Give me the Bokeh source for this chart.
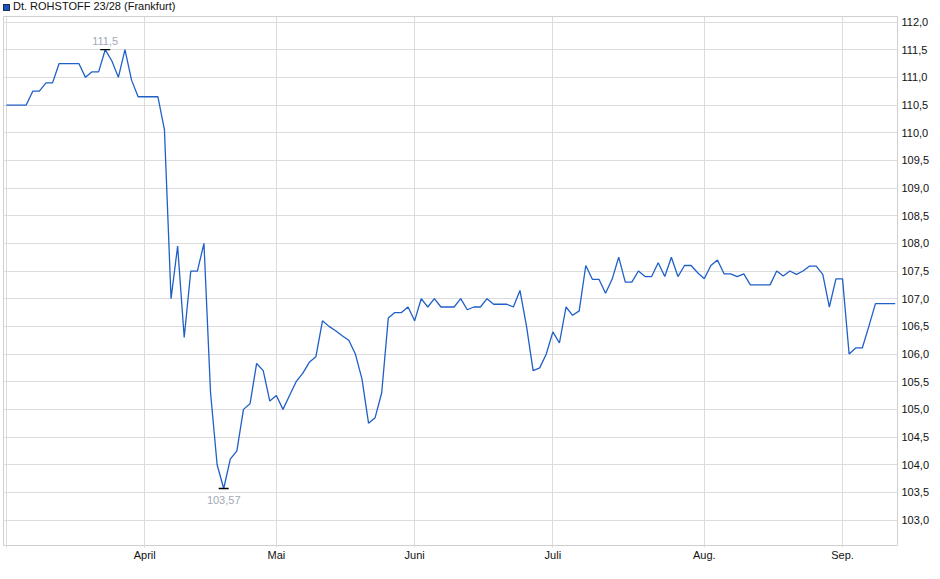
import numpy as np
import pandas as pd
from bokeh.plotting import figure
from bokeh.layouts import column
from bokeh.models import FixedTicker, Range1d, CustomJSTickFormatter, Div
from bokeh.core.properties import value
from bokeh.embed import file_html
from bokeh.resources import INLINE

# ---------------- data ----------------
series_name = "Dt. ROHSTOFF 23/28 (Frankfurt)"
start_date = "2025-03-03"
end_date = "2025-09-11"
exchange_holidays = ["2025-04-18", "2025-04-21", "2025-05-01"]
month_names = {3: "", 4: "April", 5: "Mai", 6: "Juni", 7: "Juli", 8: "Aug.", 9: "Sep."}

mar_vals = [110.5, 110.5, 110.5, 110.5, 110.75, 110.75, 110.9, 110.9, 111.25, 111.25,
            111.25, 111.25, 111.0, 111.1, 111.1, 111.5, 111.3, 111.0, 111.5, 110.95,
            110.65]
apr_vals = [110.65, 110.65, 110.65, 110.05, 107.0, 107.95, 106.3, 107.5, 107.5, 108.0,
            105.3, 104.0, 103.57, 104.1, 104.25, 105.0, 105.1, 105.83, 105.7, 105.15]
may_vals = [105.25, 105.0, 105.25, 105.5, 105.65, 105.85, 105.95, 106.6, 106.5, 106.42,
            106.33, 106.25, 106.0, 105.55, 104.75, 104.85, 105.3, 106.65, 106.75, 106.75,
            106.85]
jun_vals = [106.6, 107.0, 106.85, 107.0, 106.85, 106.85, 106.85, 107.0, 106.8, 106.85,
            106.85, 107.0, 106.9, 106.9, 106.9, 106.85, 107.15, 106.5, 105.7, 105.75,
            106.0]
jul_vals = [106.4, 106.2, 106.85, 106.7, 106.78, 107.6, 107.35, 107.35, 107.1, 107.35,
            107.75, 107.3, 107.3, 107.5, 107.4, 107.4, 107.65, 107.4, 107.75, 107.4,
            107.6, 107.6, 107.47]
aug_vals = [107.36, 107.6, 107.7, 107.45, 107.45, 107.4, 107.45, 107.25, 107.25, 107.25,
            107.25, 107.5, 107.41, 107.5, 107.44, 107.5, 107.59, 107.59, 107.44, 106.85,
            107.36]
sep_vals = [107.36, 106.0, 106.11, 106.11, 106.5, 106.91, 106.91, 106.91, 106.91]

y_tick_values = [103.0, 103.5, 104.0, 104.5, 105.0, 105.5, 106.0, 106.5, 107.0, 107.5,
                 108.0, 108.5, 109.0, 109.5, 110.0, 110.5, 111.0, 111.5, 112.0]
y_min, y_max = 102.54, 112.10

# ---------------- derived ----------------
dates = pd.bdate_range(start_date, end_date)
dates = dates[~dates.isin(pd.to_datetime(exchange_holidays))]
prices = mar_vals + apr_vals + may_vals + jun_vals + jul_vals + aug_vals + sep_vals
n = min(len(dates), len(prices))
dates = dates[:n]
prices = np.array(prices[:n])
idx = np.arange(n)

month_starts = []
month_labels = []
prev = None
for i, d in enumerate(dates):
    if d.month != prev:
        month_starts.append(int(i))
        month_labels.append(month_names.get(d.month, ""))
        prev = d.month

FONT = "Liberation Sans"

W = 932
HEADER_H = 15
H = 571 - HEADER_H
left_b, top_b, bot_b, right_b = 3, 1, 26, 34

header = Div(
    text=('<span style="display:inline-block;width:7px;height:7px;background:#1a56b8;'
          'border:1px solid #1c2f5a;margin-right:3px;vertical-align:-1px"></span>'
          + series_name),
    width=W, height=HEADER_H,
    styles={"font-family": FONT, "font-size": "11px", "color": "#111111",
            "line-height": "13px", "padding-left": "3px", "margin": "0",
            "white-space": "nowrap"})

p = figure(width=W, height=H, output_backend="svg", toolbar_location=None,
           x_range=Range1d(-0.45, n - 1 + 0.35), y_range=Range1d(y_min, y_max),
           y_axis_location="right",
           min_border_left=left_b, min_border_right=right_b,
           min_border_top=top_b, min_border_bottom=bot_b)
p.background_fill_color = "white"
p.border_fill_color = "white"
p.outline_line_color = "#cfcfcf"
p.outline_line_width = 1

# axes
xa = p.xaxis[0]
xa.ticker = FixedTicker(ticks=month_starts)
xa.formatter = CustomJSTickFormatter(
    args=dict(mticks=month_starts, mlabels=month_labels),
    code="const k = mticks.indexOf(tick); return k >= 0 ? mlabels[k] : '';")
xa.axis_line_color = None
xa.major_tick_out = 2
xa.major_tick_in = 0
xa.major_tick_line_color = "#dcdcdc"
xa.minor_tick_line_color = None
xa.major_label_standoff = 1
xa.major_label_text_font = FONT
xa.major_label_text_font_size = "11px"
xa.major_label_text_color = "#111111"

ya = p.yaxis[0]
ya.ticker = FixedTicker(ticks=y_tick_values)
ya.formatter = CustomJSTickFormatter(code="return tick.toFixed(1).replace('.', ',');")
ya.axis_line_color = None
ya.major_tick_out = 0
ya.major_tick_in = 0
ya.minor_tick_line_color = None
ya.major_label_standoff = 4
ya.major_label_text_font = FONT
ya.major_label_text_font_size = "11px"
ya.major_label_text_color = "#111111"

p.xgrid.grid_line_color = "#dcdcdc"
p.ygrid.grid_line_color = "#dcdcdc"

# price line
p.line(idx, prices, line_color="#1f5fc8", line_width=1.3)

# high / low markers
imax = int(np.argmax(prices))
imin = int(np.argmin(prices))
pmax = float(prices[imax])
pmin = float(prices[imin])

def de_fmt(v):
    return ("%g" % v).replace(".", ",")

p.scatter([imax, imin], [pmax, pmin], marker="dash", size=10,
          line_color="black", line_width=1.3)
p.text(x=[imax], y=[pmax], text=[de_fmt(pmax)], text_align="center",
       text_baseline="middle", y_offset=-9, text_font=value(FONT),
       text_font_size="11px", text_color="#a3a9b8")
p.text(x=[imin], y=[pmin], text=[de_fmt(pmin)], text_align="center",
       text_baseline="middle", y_offset=11, text_font=value(FONT),
       text_font_size="11px", text_color="#a3a9b8")

layout = column(header, p, spacing=0)
open("out.html", "w").write(file_html(layout, INLINE))
